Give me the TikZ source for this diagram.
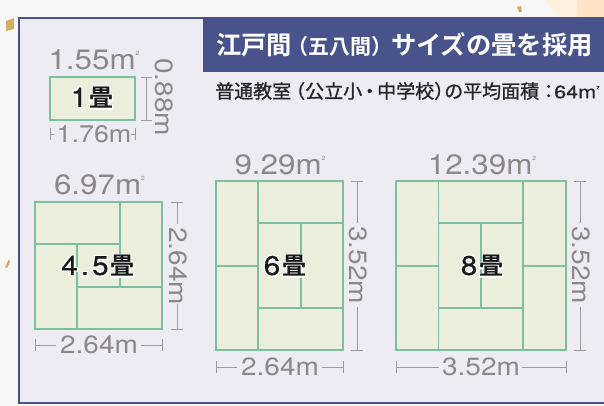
\documentclass[tikz,border=0pt]{standalone}
\usepackage{fontspec}
\setmainfont{TeX Gyre Heros}
\newfontfamily\cjkb{Noto Sans CJK JP Bold}
\newfontfamily\cjksub[FakeBold=1]{Noto Sans CJK JP}
\newfontfamily\dimf[FakeStretch=1.12]{TeX Gyre Heros}
\newfontfamily\subnum[FakeStretch=1.2,FakeBold=0.5]{TeX Gyre Heros}
\newfontfamily\roomnum[FakeBold=0.5,FakeStretch=1.1]{TeX Gyre Heros}
\newfontfamily\haloa[FakeBold=10,FakeStretch=1.1]{TeX Gyre Heros}
\newfontfamily\halob[FakeBold=10]{Noto Sans CJK JP Bold}
\definecolor{navy}{HTML}{48538C}
\definecolor{panel}{HTML}{EDECF3}
\definecolor{mat}{HTML}{ECEEDC}
\definecolor{edge}{HTML}{7DBFA0}
\definecolor{dimgrey}{HTML}{8B8888}
\definecolor{speck}{HTML}{CDB262}
\newcommand\sqm{m\raisebox{0.52em}{\fontsize{6}{6}\selectfont 2}}
\newcommand\roomtxt[2]{%
  \rlap{\color{white}\fontsize{27}{27}\haloa\selectfont #1\hspace{2pt}\fontsize{24}{24}\halob\selectfont #2}%
  {\fontsize{27}{27}\roomnum\selectfont #1}\hspace{2pt}{\fontsize{24}{24}\cjkb\selectfont #2}}
\tikzset{
  tatami/.style={draw=edge,fill=mat,line width=1.6pt,inner sep=0pt,outer sep=0pt},
  seam/.style={draw=edge,line width=1.6pt},
  dimline/.style={draw=dimgrey!85,line width=0.9pt},
  arealabel/.style={text=dimgrey,font=\dimf\fontsize{28}{28}\selectfont,inner sep=0pt},
  dimlabel/.style={text=dimgrey,font=\dimf\fontsize{25}{25}\selectfont,inner sep=0pt},
  roomlabel/.style={text=black!90,inner sep=0pt},
}
\begin{document}
\begin{tikzpicture}[x=1pt,y=-1pt]
\useasboundingbox (0,0) rectangle (604,406);
\fill[white!97!black] (0,0) rectangle (604,406);
\fill[orange!12!white] (545,0) .. controls (550,8) and (555,14) .. (562,17) -- (604,17) -- (604,0) -- cycle;
\fill[orange!22!white] (577,0) rectangle (604,17);
\fill[speck] (6,21) -- (14,18) -- (14,29) -- (6,31) -- cycle;
\fill[speck] (5,267) -- (9,259) -- (10,262) -- (7,268) -- cycle;
\fill[speck] (517,7) -- (521,6) -- (522,12) -- (519,12) -- cycle;
% panel
\fill[panel] (19,18) rectangle (604,403);
\draw[navy,line width=2pt] (604,18) -- (19,18) -- (19,403) -- (604,403);
\node[fill=navy,minimum width=401pt,minimum height=55pt,anchor=north west,inner sep=0pt] (head) at (203,17) {};
\node[text=white,anchor=west,inner sep=0pt] (title) at (216,45) {\cjkb\fontsize{25.3}{25.3}\selectfont 江戸間\kern-4.5pt{\fontsize{21}{21}\selectfont （五八間）}\kern-1.5pt サイズの畳を採用};
\node[text=black!85,anchor=west,inner sep=0pt] (sub) at (215,91) {\cjksub\fontsize{19}{19}\selectfont 普通教室\kern-5pt （公立小\kern-2pt・\kern-2pt中学校）\kern-9pt の平均面積：\kern-4pt{\subnum\fontsize{18}{18}\selectfont 64m\raisebox{0.5em}{\fontsize{5}{5}\selectfont 2}}};
% 1 mat
\node[tatami,minimum width=85pt,minimum height=43pt] (m1) at (92.5,98.5) {};
\node[roomlabel] (l1) at (92,98) {\roomtxt{1}{畳}};
\node[arealabel] (a1) at (94,60) {1.55\sqm};
\coordinate (w1a) at (50,134); \coordinate (w1b) at (135,134);
\draw[dimline] (50,128) -- (50,140) (135,128) -- (135,140);
\draw[dimline] (w1a) -- (54,134) (131,134) -- (w1b);
\node[dimlabel,font=\dimf\fontsize{24}{24}\selectfont] (d1w) at (94,134) {1.76m};
\draw[dimline] (141,77) -- (152,77) (141,120) -- (152,120) (146,77) -- (146,120);
\node[dimlabel,rotate=-90] (d1h) at (164,97) {0.88m};
% 4.5 mats
\node[tatami,minimum width=127pt,minimum height=127pt] (m45) at (98.5,265.5) {};
\draw[seam] (120,202) -- (120,287) (35,244) -- (120,244) (77,244) -- (77,329) (77,287) -- (162,287);
\node[roomlabel] (l45) at (98,266) {\roomtxt{4\kern3pt.\kern3pt5}{畳}};
\node[arealabel] (a45) at (99.5,185) {6.97\sqm};
\draw[dimline] (35,339) -- (35,351) (162,339) -- (162,351) (35,345) -- (56,345) (141,345) -- (162,345);
\node[dimlabel] (d45w) at (99,345) {2.64m};
\draw[dimline] (171,202) -- (183,202) (171,329) -- (183,329) (177,202) -- (177,224) (177,304) -- (177,329);
\node[dimlabel,rotate=-90] (d45h) at (178,266) {2.64m};
% 6 mats
\node[tatami,minimum width=127pt,minimum height=169pt] (m6) at (279.5,265.5) {};
\draw[seam] (258,181) -- (258,350) (216,266) -- (258,266) (258,223) -- (343,223) (258,308) -- (343,308) (301,223) -- (301,308);
\node[roomlabel] (l6) at (285,266) {\roomtxt{6}{畳}};
\node[arealabel] (a6) at (280,165) {9.29\sqm};
\draw[dimline] (216,361) -- (216,373) (343,361) -- (343,373) (216,367) -- (237,367) (322,367) -- (343,367);
\node[dimlabel] (d6w) at (280,367) {2.64m};
\draw[dimline] (351,181) -- (363,181) (351,350) -- (363,350) (357,181) -- (357,223) (357,307) -- (357,350);
\node[dimlabel,rotate=-90] (d6h) at (358,265) {3.52m};
% 8 mats
\node[tatami,minimum width=170pt,minimum height=169pt] (m8) at (481,265.5) {};
\draw[seam] (438.5,181) -- (438.5,350) (523,181) -- (523,350) (396,266) -- (438.5,266) (523,266) -- (566,266) (438.5,223) -- (523,223) (438.5,308) -- (523,308) (481,223) -- (481,308);
\node[roomlabel] (l8) at (482,266) {\roomtxt{8}{畳}};
\node[arealabel] (a8) at (482,165) {12.39\sqm};
\draw[dimline] (396,361) -- (396,373) (566,361) -- (566,373) (396,367) -- (439,367) (522,367) -- (566,367);
\node[dimlabel] (d8w) at (481,367) {3.52m};
\draw[dimline] (574,181) -- (586,181) (574,350) -- (586,350) (580,181) -- (580,223) (580,307) -- (580,350);
\node[dimlabel,rotate=-90] (d8h) at (581,265) {3.52m};
\end{tikzpicture}
\end{document}
